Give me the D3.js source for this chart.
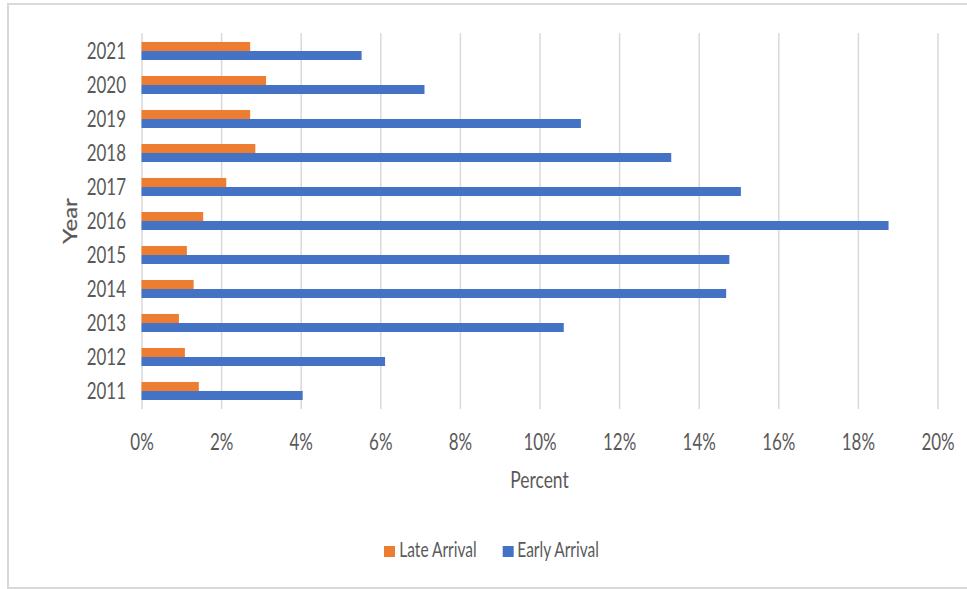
<!DOCTYPE html>
<html>
<head>
<meta charset="utf-8">
<script src="https://cdn.jsdelivr.net/npm/d3@7"></script>
<style>
  html, body { margin: 0; padding: 0; background: #fff; }
  svg text { font-family: Lato, "Open Sans", sans-serif; fill: #595959; }
</style>
</head>
<body>
<svg id="chart" width="967" height="589"></svg>
<script>
// Arrival timing by year, in percent
const years = [2011, 2012, 2013, 2014, 2015, 2016, 2017, 2018, 2019, 2020, 2021];
const lateArrival = [1.44, 1.09, 0.94, 1.31, 1.14, 1.55, 2.13, 2.86, 2.73, 3.13, 2.73];
const earlyArrival = [4.05, 6.12, 10.61, 14.69, 14.77, 18.77, 15.06, 13.31, 11.04, 7.11, 5.53];
const xTicks = [0, 2, 4, 6, 8, 10, 12, 14, 16, 18, 20];
const seriesNames = ["Late Arrival", "Early Arrival"];
const seriesColors = ["#ED7D31", "#4472C4"];

const rows = years.map((y, i) => ({ year: y, values: [lateArrival[i], earlyArrival[i]] }));

const svg = d3.select("#chart");
const SX = 0.76; // horizontal text squeeze for a narrow face

// chart frame
svg.append("rect")
  .attr("x", 8).attr("y", 4).attr("width", 975).attr("height", 584)
  .attr("fill", "#fff").attr("stroke", "#d9d9d9").attr("stroke-width", 2);

const plot = { left: 141.5, right: 937.5, top: 34, bottom: 408 };

const x = d3.scaleLinear().domain([0, 20]).range([plot.left, plot.right]);
const y = d3.scaleBand()
  .domain(years.slice().reverse())
  .range([plot.top, plot.bottom])
  .paddingInner(0.47)
  .paddingOuter(0.235);
const ySub = d3.scaleBand().domain(seriesNames).range([0, y.bandwidth()]);

// gridlines + x tick labels
const xAxis = svg.append("g")
  .attr("transform", `translate(0,${plot.bottom + 1})`)
  .call(d3.axisBottom(x).tickValues(xTicks).tickFormat(d => d + "%")
    .tickSizeInner(-(plot.bottom + 1 - 33)).tickSizeOuter(0));
xAxis.select(".domain").remove();
xAxis.selectAll(".tick line").attr("stroke", "#d9d9d9").attr("stroke-width", 1.5);
xAxis.selectAll(".tick text")
  .attr("y", 0).attr("dy", 0)
  .attr("font-size", 22.3)
  .attr("transform", `translate(0,40.5) scale(${SX},1)`);

// bars
const groups = svg.append("g").selectAll("g")
  .data(rows).join("g")
  .attr("transform", d => `translate(0,${y(d.year)})`);
groups.selectAll("rect")
  .data(d => d.values.map((v, i) => ({ name: seriesNames[i], value: v, color: seriesColors[i] })))
  .join("rect")
  .attr("x", x(0))
  .attr("y", d => ySub(d.name))
  .attr("width", d => x(d.value) - x(0))
  .attr("height", ySub.bandwidth())
  .attr("fill", d => d.color);

// year labels
const yAxis = svg.append("g")
  .attr("transform", `translate(${plot.left},0)`)
  .call(d3.axisLeft(y).tickSize(0));
yAxis.select(".domain").remove();
yAxis.selectAll(".tick text")
  .attr("x", 0).attr("dy", "0.36em")
  .attr("font-size", 22.3)
  .attr("transform", `translate(-15.5,0) scale(${SX},1)`);

// axis titles
svg.append("text")
  .attr("text-anchor", "middle")
  .attr("font-size", 23)
  .attr("dy", "0.36em")
  .attr("transform", `translate(539.5,480) scale(${SX},1)`)
  .text("Percent");

svg.append("text")
  .attr("text-anchor", "middle")
  .attr("font-size", 24)
  .attr("stroke", "#595959")
  .attr("stroke-width", 0.3)
  .attr("dy", "0.36em")
  .attr("transform", `translate(70,221) scale(${SX},1) rotate(-90)`)
  .text("Year");

// legend
const legendItems = [
  { name: seriesNames[0], color: seriesColors[0], sx: 384, tx: 399.3 },
  { name: seriesNames[1], color: seriesColors[1], sx: 502.7, tx: 517.3 }
];
const legend = svg.append("g");
legend.selectAll("rect").data(legendItems).join("rect")
  .attr("x", d => d.sx).attr("y", 546)
  .attr("width", 11).attr("height", 11)
  .attr("fill", d => d.color);
legend.selectAll("text").data(legendItems).join("text")
  .attr("font-size", 20.4)
  .attr("dy", "0.36em")
  .attr("transform", d => `translate(${d.tx},550) scale(${SX},1)`)
  .text(d => d.name);
</script>
</body>
</html>
